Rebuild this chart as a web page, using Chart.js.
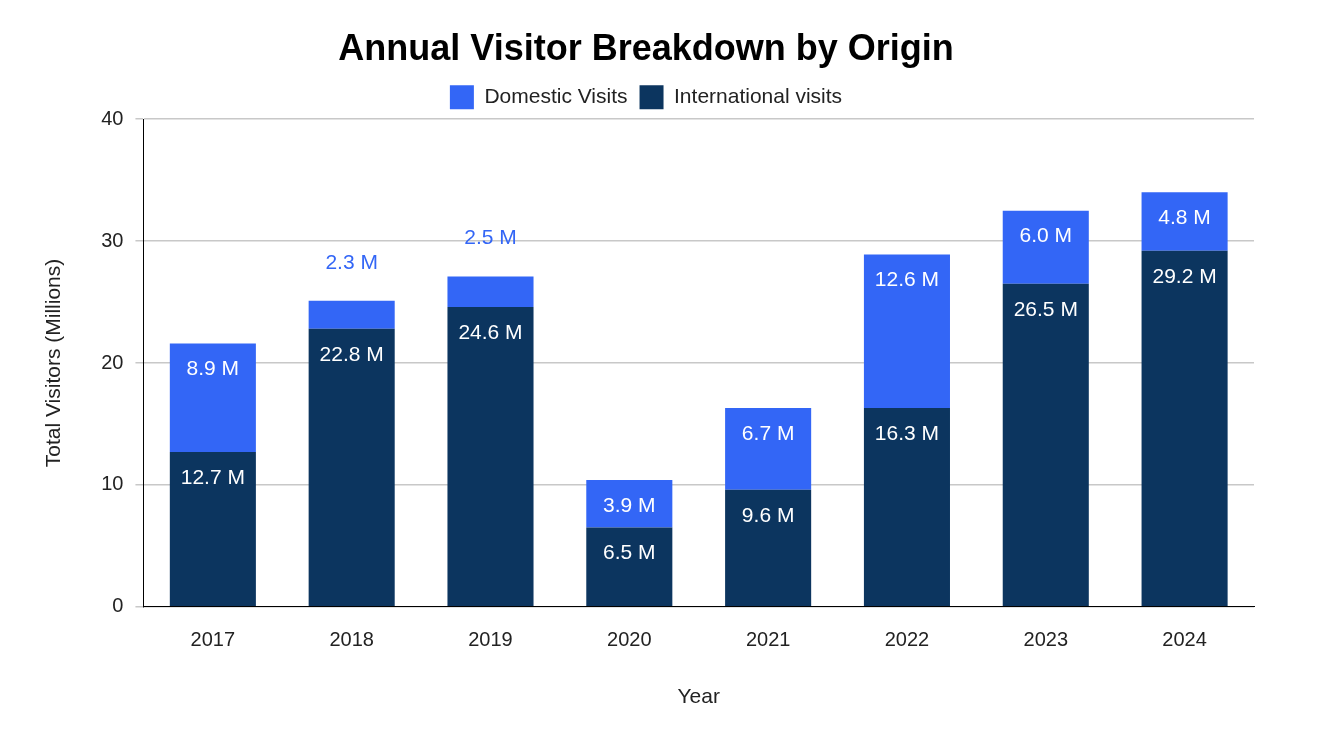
<!DOCTYPE html>
<html><head><meta charset="utf-8">
<script src="https://cdn.jsdelivr.net/npm/chart.js@4"></script>
<style>html,body{margin:0;padding:0;background:#fff}#w{width:1320px;height:738px}</style>
</head><body><div id="w"><canvas id="c"></canvas></div>
<script>
const years = ['2017','2018','2019','2020','2021','2022','2023','2024'];
const international = [12.7,22.8,24.6,6.5,9.6,16.3,26.5,29.2];
const domestic = [8.9,2.3,2.5,3.9,6.7,12.6,6.0,4.8];
const yTicks = [0,10,20,30,40];
const DOM='#3366f6', INT='#0c355f';
const F='"Liberation Sans", Arial, sans-serif';
const labels = {
  id:'labels',
  afterDatasetsDraw(chart){
    const ctx=chart.ctx;
    ctx.save();
    ctx.font='21px '+F;
    ctx.textAlign='center';ctx.textBaseline='middle';
    chart.data.datasets.forEach((ds,i)=>{
      chart.getDatasetMeta(i).data.forEach((el,j)=>{
        const v=ds.data[j];
        const h=el.base-el.y;
        const t=v.toFixed(1)+' M';
        if(h<45){ctx.fillStyle=DOM;ctx.fillText(t,el.x,el.y-38);}
        else{ctx.fillStyle='#fff';ctx.fillText(t,el.x,el.y+26);}
      });
    });
    ctx.restore();
  }
};
new Chart(document.getElementById('c'),{
  type:'bar',
  data:{labels:years,datasets:[
    {label:'International visits',data:international,backgroundColor:INT},
    {label:'Domestic Visits',data:domestic,backgroundColor:DOM}
  ]},
  options:{
    responsive:true,maintainAspectRatio:false,animation:false,
    layout:{padding:{left:38,right:66,top:10,bottom:24}},
    datasets:{bar:{categoryPercentage:0.62,barPercentage:1}},
    plugins:{
      title:{display:true,text:'Annual Visitor Breakdown by Origin',font:{family:F,size:36,weight:'bold'},color:'#000',padding:{top:18,bottom:2}},
      legend:{reverse:true,labels:{font:{family:F,size:21},color:'#222',boxWidth:24,boxHeight:24,padding:12}},
      tooltip:{enabled:false}
    },
    scales:{
      x:{stacked:true,grid:{display:false},border:{color:'#000'},
         ticks:{font:{family:F,size:20},color:'#222',padding:14},
         title:{display:true,text:'Year',font:{family:F,size:21},color:'#222',padding:{top:18}}},
      y:{stacked:true,min:0,max:40,afterBuildTicks(a){a.ticks=yTicks.map(v=>({value:v}));},
         grid:{color:'#c8c8c8',lineWidth:1.5},border:{display:true,color:'#000'},
         ticks:{font:{family:F,size:20},color:'#222',padding:12},
         title:{display:true,text:'Total Visitors (Millions)',font:{family:F,size:21},color:'#222',padding:{bottom:22}}}
    }
  },
  plugins:[labels]
});
</script></body></html>
